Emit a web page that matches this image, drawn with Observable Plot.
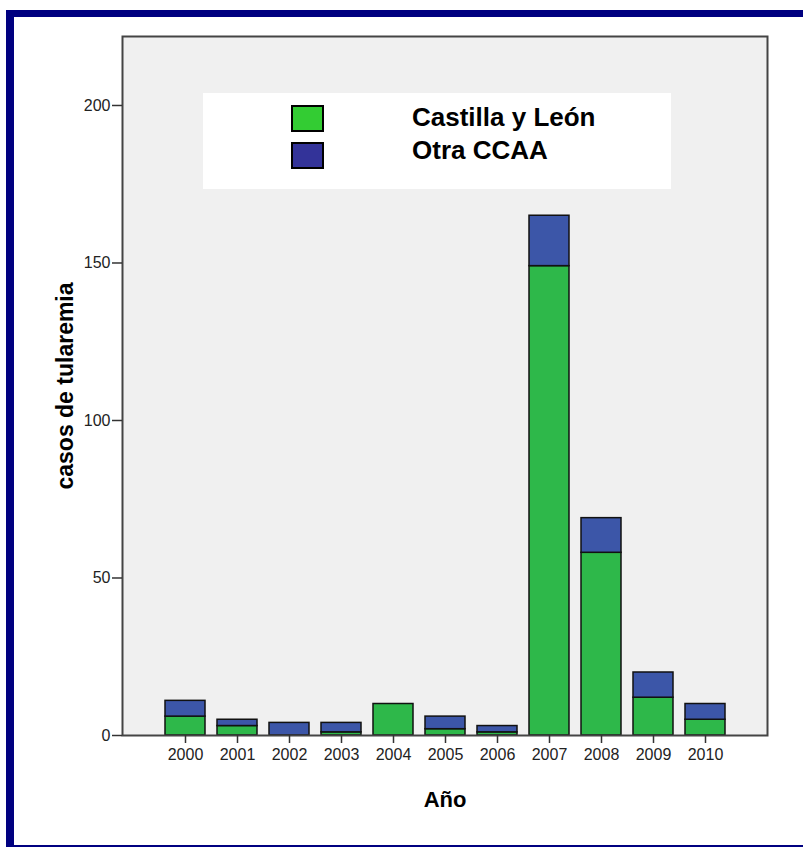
<!DOCTYPE html>
<html>
<head>
<meta charset="utf-8">
<script src="https://cdn.jsdelivr.net/npm/d3@7"></script>
<script src="https://cdn.jsdelivr.net/npm/@observablehq/plot@0.6"></script>
<style>
  body { margin: 0; background: #fff; }
  #wrap { position: relative; width: 803px; height: 847px; overflow: hidden;
          font-family: "Liberation Sans", Arial, Helvetica, sans-serif; }
  #border { position: absolute; left: 6px; top: 10px; width: 900px; height: 837px; box-sizing: border-box;
            border-top: 7px solid #000080; border-left: 8px solid #000080; border-bottom: 2px solid #000080; }
  #chart { position: absolute; left: 0; top: 0; }
  #legend { position: absolute; left: 203px; top: 93px; width: 468px; height: 96px; background: #fff; }
  .sw { position: absolute; left: 88px; width: 33px; height: 27px; box-sizing: border-box; border: 2px solid #000; }
  .lt { position: absolute; left: 209px; font-size: 26px; line-height: 26px; font-weight: bold; color: #000; white-space: nowrap; }
</style>
</head>
<body>
<div id="wrap">
  <div id="border"></div>
  <div id="chart"></div>
  <div id="legend"></div>
</div>
<script>
const years = ["2000","2001","2002","2003","2004","2005","2006","2007","2008","2009","2010"];
const castilla = [6, 3, 0, 1, 10, 2, 1, 149, 58, 12, 5];
const otra = [5, 2, 4, 3, 0, 4, 2, 16, 11, 8, 5];
const series = ["Castilla y León", "Otra CCAA"];
const barColors = ["#2eb84a", "#3c56a8"];
const legendColors = ["#33cc33", "#333399"];
const yTicks = [0, 50, 100, 150, 200];
const yLabel = "casos de tularemia";
const xLabel = "Año";

const rows = [
  ...years.map((y, i) => ({year: y, serie: series[0], n: castilla[i]})),
  ...years.map((y, i) => ({year: y, serie: series[1], n: otra[i]}))
];

const plot = Plot.plot({
  width: 803,
  height: 847,
  marginLeft: 122,
  marginRight: 36,
  marginTop: 36,
  marginBottom: 112,
  style: {fontFamily: '"Liberation Sans", Arial, sans-serif', fontSize: "16px", color: "#222", background: "transparent"},
  x: {type: "band", domain: years, paddingInner: 0.24, paddingOuter: 0, insetLeft: 38.5, insetRight: 38.5},
  y: {domain: [0, 221.9]},
  color: {domain: series, range: barColors},
  marks: [
    Plot.frame({fill: "#f0f0f0", stroke: null}),
    Plot.barY(rows, {x: "year", y: "n", fill: "serie", stroke: "#111", strokeWidth: 1.5}),
    Plot.frame({stroke: "#444", strokeWidth: 2}),
    Plot.axisY({ticks: yTicks, tickSize: 10, tickPadding: 2, label: null, stroke: "#333", strokeWidth: 1.5}),
    Plot.axisX({tickSize: 8, tickPadding: 5, label: null, stroke: "#333", strokeWidth: 1.5}),
    Plot.text([yLabel], {frameAnchor: "left", dx: -57, rotate: -90, fontSize: 23, fontWeight: "bold", fill: "#000", textAnchor: "middle", lineAnchor: "middle"}),
    Plot.text([xLabel], {frameAnchor: "bottom", dy: 64, fontSize: 22, fontWeight: "bold", fill: "#000", lineAnchor: "middle"})
  ]
});
document.getElementById("chart").appendChild(plot);

const legend = document.getElementById("legend");
series.forEach((s, i) => {
  const sw = document.createElement("div");
  sw.className = "sw";
  sw.style.top = (12 + i * 37) + "px";
  sw.style.background = legendColors[i];
  legend.appendChild(sw);
  const t = document.createElement("div");
  t.className = "lt";
  t.style.top = (11 + i * 32.5) + "px";
  t.textContent = s;
  legend.appendChild(t);
});
</script>
</body>
</html>
